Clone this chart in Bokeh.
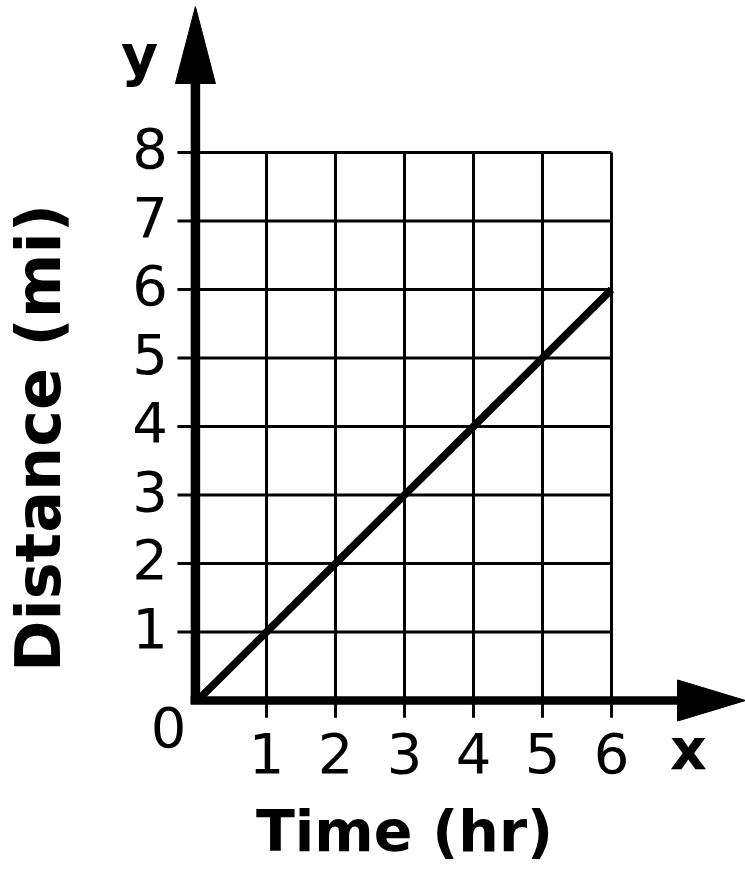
import math
from bokeh.plotting import figure
from bokeh.models import Range1d
from bokeh.core.properties import value
from bokeh.embed import file_html
from bokeh.resources import INLINE

# ---- data ----
hours = [0, 1, 2, 3, 4, 5, 6]
miles = [0, 1, 2, 3, 4, 5, 6]
x_ticks = [1, 2, 3, 4, 5, 6]
y_ticks = [1, 2, 3, 4, 5, 6, 7, 8]
x_tick_labels = [str(t) for t in x_ticks]
y_tick_labels = [str(t) for t in y_ticks]
x_title = "Time (hr)"
y_title = "Distance (mi)"

FONT = value("DejaVu Sans")

# ---- canvas in data units ----
X_MIN, X_MAX = -2.855, 7.942
Y_MIN, Y_MAX = -2.467, 10.219
GRID_X_MAX = max(x_ticks)
GRID_Y_MAX = max(y_ticks)

p = figure(width=745, height=869, output_backend="svg", toolbar_location=None,
           x_range=Range1d(X_MIN, X_MAX), y_range=Range1d(Y_MIN, Y_MAX),
           x_axis_location=None, y_axis_location=None,
           min_border=0)
p.min_border_left = p.min_border_right = p.min_border_top = p.min_border_bottom = 0
p.outline_line_color = None
p.grid.visible = False
p.background_fill_color = "white"
p.border_fill_color = "white"

# ---- grid (lines extend slightly past the axes as ticks) ----
TICK_X = -0.29
TICK_Y = -0.25
p.segment(x0=[TICK_X] * len(y_ticks), y0=y_ticks,
          x1=[GRID_X_MAX] * len(y_ticks), y1=y_ticks,
          line_color="black", line_width=3)
p.segment(x0=x_ticks, y0=[TICK_Y] * len(x_ticks),
          x1=x_ticks, y1=[GRID_Y_MAX] * len(x_ticks),
          line_color="black", line_width=3)

# ---- data line ----
p.line(hours, miles, line_color="black", line_width=7.5)

# ---- axes with arrows ----
X_ARROW_BASE = 6.957
Y_ARROW_BASE = 9.007
p.line([-0.1, X_ARROW_BASE + 0.05], [0, 0], line_color="black", line_width=8.5)
p.patch([X_ARROW_BASE, X_MAX, X_ARROW_BASE], [0.3, 0, -0.3],
        fill_color="black", line_color="black", line_width=1)
p.line([-0.03, -0.03], [-0.045, Y_ARROW_BASE + 0.05], line_color="black", line_width=9.5)
p.patch([-0.32, -0.03, 0.26], [Y_ARROW_BASE, 10.13, Y_ARROW_BASE],
        fill_color="black", line_color="black", line_width=1)

# ---- tick labels ----
Y_LABEL_X = -0.428
Y_LABEL_DY = 0.059
X_LABEL_Y = -0.759
p.text(x=[Y_LABEL_X] * len(y_ticks), y=[t + Y_LABEL_DY for t in y_ticks],
       text=y_tick_labels, text_font=FONT, text_font_size="56px",
       text_align="right", text_baseline="alphabetic", text_color="black")
p.text(x=x_ticks, y=[X_LABEL_Y] * len(x_ticks),
       text=x_tick_labels, text_font=FONT, text_font_size="56px",
       text_align="center", text_baseline="alphabetic", text_color="black")
p.text(x=[-0.42], y=[-0.393], text=["0"], text_font=FONT, text_font_size="56px",
       text_align="center", text_baseline="alphabetic", text_color="black")

# ---- axis letters ----
p.text(x=[7.116], y=[-0.715], text=["x"], text_font=FONT, text_font_size="57px",
       text_font_style="bold", text_align="center", text_baseline="alphabetic",
       text_color="black")
p.text(x=[-0.841], y=[9.43], text=["y"], text_font=FONT, text_font_size="57px",
       text_font_style="bold", text_align="center", text_baseline="alphabetic",
       text_color="black")

# ---- axis titles ----
p.text(x=[3.0], y=[-1.912], text=[x_title], text_font=FONT, text_font_size="57px",
       text_font_style="bold", text_align="center", text_baseline="alphabetic",
       text_color="black")
p.text(x=[-2.305], y=[3.832], text=[y_title], text_font=FONT, text_font_size="62px",
       text_font_style="bold", text_align="center", text_baseline="alphabetic",
       angle=math.pi / 2, text_color="black")

open("out.html", "w").write(file_html(p, INLINE))
